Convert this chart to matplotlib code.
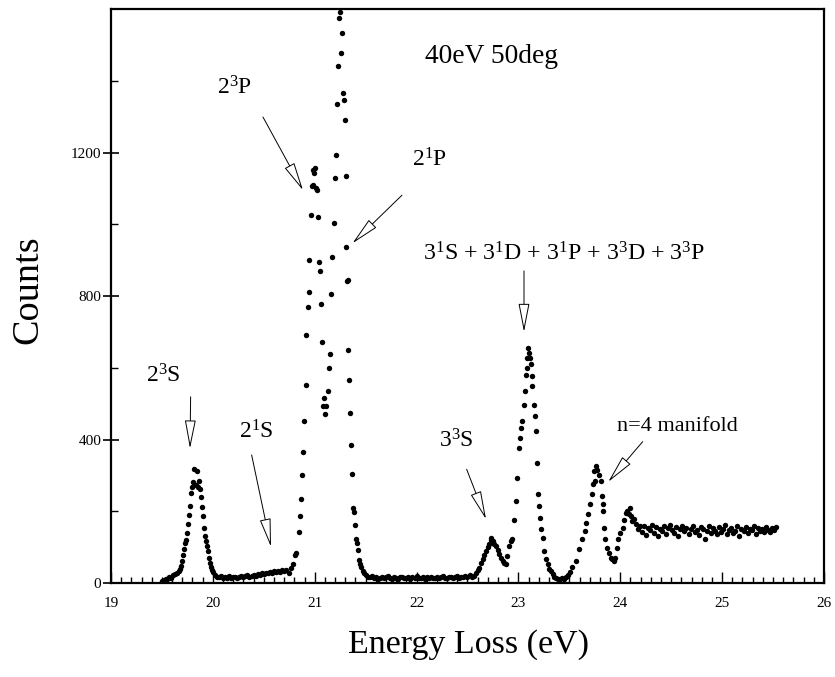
import numpy as np
import matplotlib
matplotlib.use("Agg")
import matplotlib.pyplot as plt
from matplotlib.ticker import MultipleLocator, FixedLocator

# ---------------- data ----------------
# 2^3S peak region
energy_23S = [19.50, 19.52, 19.54, 19.55, 19.57, 19.59, 19.61, 19.63, 19.65, 19.67,
              19.68, 19.69, 19.70, 19.71, 19.72, 19.73, 19.74, 19.75, 19.76, 19.77,
              19.78, 19.79, 19.80, 19.81, 19.82, 19.83, 19.84, 19.85, 19.86, 19.87,
              19.88, 19.89, 19.90, 19.91, 19.92, 19.93, 19.94, 19.95, 19.96, 19.97,
              19.98, 19.99, 20.00]
counts_23S = [5, 8, 12, 10, 18, 15, 22, 26, 28, 33,
              38, 48, 62, 78, 95, 112, 120, 140, 165, 190,
              215, 250, 268, 282, 318, 272, 312, 268, 284, 262,
              240, 212, 188, 152, 132, 116, 102, 88, 70, 55,
              44, 36, 30]

# baseline with 2^1S shoulder (20.02 - 20.72 eV, 0.02 eV steps)
counts_21S = [22, 18, 16, 19, 14, 17, 15, 19, 13, 17,
              18, 14, 17, 20, 16, 19, 21, 17, 20, 23,
              19, 24, 22, 27, 25, 29, 27, 31, 28, 33,
              30, 34, 31, 36, 33, 35]
energy_21S = np.linspace(20.02, 20.72, len(counts_21S))

# 2^3P / 2^1P peaks
energy_2P = [20.744, 20.763, 20.789, 20.809, 20.816, 20.842, 20.855, 20.862, 20.874, 20.887,
             20.897, 20.911, 20.917, 20.930, 20.943, 20.946, 20.963, 20.973, 20.980, 20.985,
             20.993, 21.005, 21.015, 21.022, 21.034, 21.044, 21.054, 21.061, 21.071, 21.083,
             21.093, 21.103, 21.110, 21.127, 21.139, 21.146, 21.162, 21.172, 21.186, 21.195,
             21.205, 21.215, 21.231, 21.240, 21.247, 21.254, 21.267, 21.280, 21.287, 21.296,
             21.306, 21.309, 21.316, 21.323, 21.326, 21.339, 21.348, 21.355, 21.368, 21.372,
             21.385, 21.397, 21.404, 21.414, 21.424, 21.431, 21.445, 21.456, 21.470]
counts_2P = [29, 41, 54, 78, 84, 143, 186, 233, 302, 364,
             453, 553, 692, 769, 812, 901, 1026, 1107, 1110, 1150,
             1142, 1156, 1100, 1096, 1020, 896, 870, 779, 673, 493,
             516, 472, 493, 534, 598, 637, 807, 908, 1003, 1128,
             1193, 1335, 1441, 1576, 1592, 1478, 1534, 1365, 1346, 1291,
             1135, 936, 841, 844, 649, 567, 473, 386, 304, 210,
             198, 161, 123, 111, 93, 65, 52, 45, 33]

# flat region 21.48 - 22.54 eV
counts_flat = [28, 22, 18, 16, 19, 14, 17, 12, 15, 18,
               13, 16, 19, 14, 12, 17, 15, 11, 16, 18,
               13, 15, 17, 12, 16, 14, 19, 13, 15, 17,
               12, 16, 14, 18, 15, 13, 17, 14, 16, 19,
               15, 13, 18, 16, 14, 17, 20, 15, 18, 16,
               19, 17, 21, 18]
energy_flat = np.linspace(21.48, 22.54, len(counts_flat))

# 3^3S and n=3 manifold
energy_n3 = [22.56, 22.58, 22.60, 22.614, 22.63, 22.648, 22.665, 22.68, 22.70, 22.712,
             22.729, 22.735, 22.746, 22.76, 22.778, 22.795, 22.811, 22.828, 22.844, 22.86,
             22.876, 22.892, 22.909, 22.925, 22.942, 22.96, 22.974, 22.991, 23.007, 23.02,
             23.03, 23.04, 23.052, 23.063, 23.073, 23.08, 23.089, 23.095, 23.102, 23.11,
             23.122, 23.129, 23.138, 23.154, 23.161, 23.171, 23.181, 23.193, 23.203, 23.213,
             23.225, 23.237, 23.252, 23.27, 23.286, 23.30, 23.318, 23.335, 23.35, 23.37,
             23.39, 23.41, 23.43, 23.45, 23.47, 23.49, 23.51]
counts_n3 = [20, 28, 36, 43, 55, 66, 78, 89, 100, 108,
             126, 120, 117, 110, 103, 92, 80, 70, 61, 55,
             52, 75, 103, 118, 124, 175, 228, 293, 377, 405,
             432, 451, 495, 534, 581, 600, 627, 655, 640, 628,
             610, 576, 548, 497, 465, 423, 335, 247, 215, 182,
             150, 126, 89, 68, 52, 40, 33, 25, 18, 14,
             12, 10, 14, 11, 16, 22, 30]

# n=4 manifold
energy_n4 = [23.531, 23.563, 23.596, 23.629, 23.652, 23.661, 23.684, 23.704, 23.720, 23.733,
             23.743, 23.750, 23.759, 23.776, 23.792, 23.809, 23.818, 23.831, 23.835, 23.841,
             23.855, 23.874, 23.890, 23.907, 23.923, 23.939, 23.946, 23.966, 23.982, 23.998,
             24.022, 24.037, 24.054, 24.071, 24.084, 24.096, 24.110, 24.119]
counts_n4 = [45, 61, 94, 122, 145, 168, 193, 219, 247, 275,
             312, 284, 326, 316, 301, 284, 242, 219, 202, 152,
             122, 98, 84, 70, 66, 62, 70, 98, 122, 140,
             154, 177, 196, 200, 192, 210, 186, 173]

# continuum tail 24.13 - 25.53 eV
counts_tail = [178, 165, 150, 158, 142, 160, 135, 152, 148, 163,
               140, 155, 130, 150, 145, 158, 138, 152, 162, 147,
               140, 156, 132, 150, 160, 144, 153, 138, 150, 158,
               142, 148, 135, 155, 150, 122, 146, 160, 140, 152,
               145, 138, 157, 143, 150, 162, 136, 148, 153, 140,
               146, 158, 132, 150, 144, 155, 140, 150, 147, 158,
               138, 152, 145, 150, 141, 155, 148, 143, 152, 147,
               156]
energy_tail = np.linspace(24.13, 25.53, len(counts_tail))

segments = [(energy_23S, counts_23S), (energy_21S, counts_21S), (energy_2P, counts_2P),
            (energy_flat, counts_flat), (energy_n3, counts_n3), (energy_n4, counts_n4),
            (energy_tail, counts_tail)]

# ---------------- figure ----------------
plt.rcParams['font.family'] = ['Liberation Serif', 'DejaVu Serif']
plt.rcParams['mathtext.fontset'] = 'custom'
plt.rcParams['mathtext.rm'] = 'Liberation Serif'
plt.rcParams['mathtext.it'] = 'Liberation Serif:italic'
plt.rcParams['mathtext.bf'] = 'Liberation Serif:bold'

fig = plt.figure(figsize=(8.35, 6.77), dpi=100)
ax = fig.add_axes([0.1329, 0.1388, 0.8539, 0.8479])

for e, c in segments:
    ax.plot(e, c, 'o', ms=3.9, color='black', mew=0)

ax.set_xlim(19, 26)
ax.set_ylim(0, 1600)
ax.xaxis.set_major_locator(MultipleLocator(1))
ax.xaxis.set_minor_locator(MultipleLocator(0.1))
ax.yaxis.set_major_locator(FixedLocator([0, 400, 800, 1200]))
ax.yaxis.set_minor_locator(FixedLocator([200, 600, 1000, 1400]))

ax.tick_params(axis='x', which='major', direction='in', length=8, width=1.0,
               labelsize=11, pad=10)
ax.tick_params(axis='x', which='minor', direction='in', length=4.5, width=1.0)
ax.tick_params(axis='y', which='major', direction='inout', length=12, width=1.2,
               labelsize=11, pad=1)
ax.tick_params(axis='y', which='minor', direction='in', length=5, width=1.0)
for s in ax.spines.values():
    s.set_linewidth(1.6)

arrow_kw = dict(arrowstyle='-|>,head_length=1.8,head_width=0.35', mutation_scale=10,
                fc='white', ec='black', lw=0.7, shrinkA=0, shrinkB=0)

def label(x, y, txt, fs=17):
    ax.text(x, y, txt, fontsize=fs, ha='center', va='center')

def arrow(start, tip):
    ax.annotate('', xy=tip, xytext=start, arrowprops=arrow_kw)

ax.text(22.74, 1469, '40eV 50deg', fontsize=19.8, ha='center', va='center')

label(20.217, 1380, r'2$^{3}$P')
arrow((20.492, 1299), (20.885, 1095))

label(22.13, 1179, r'2$^{1}$P')
arrow((21.857, 1081), (21.371, 947))

label(19.51, 577, r'2$^{3}$S')
arrow((19.782, 519), (19.776, 375))

label(20.424, 421, r'2$^{1}$S')
arrow((20.381, 357), (20.571, 101))

label(22.387, 396, r'3$^{3}$S')
arrow((22.492, 317), (22.682, 178))

label(23.447, 917, r'3$^{1}$S + 3$^{1}$D + 3$^{1}$P + 3$^{3}$D + 3$^{3}$P', fs=17.2)
arrow((23.055, 870), (23.055, 700))

label(24.557, 435, 'n=4 manifold', fs=16)
arrow((24.22, 394), (23.882, 282))

fig.text(28 / 835, 1 - 290 / 677, 'Counts', rotation=90, fontsize=27.5,
         ha='center', va='center')
fig.text(468 / 835, 1 - 645 / 677, 'Energy Loss (eV)', fontsize=24.5,
         ha='center', va='center')

fig.savefig('out.png', dpi=100)
